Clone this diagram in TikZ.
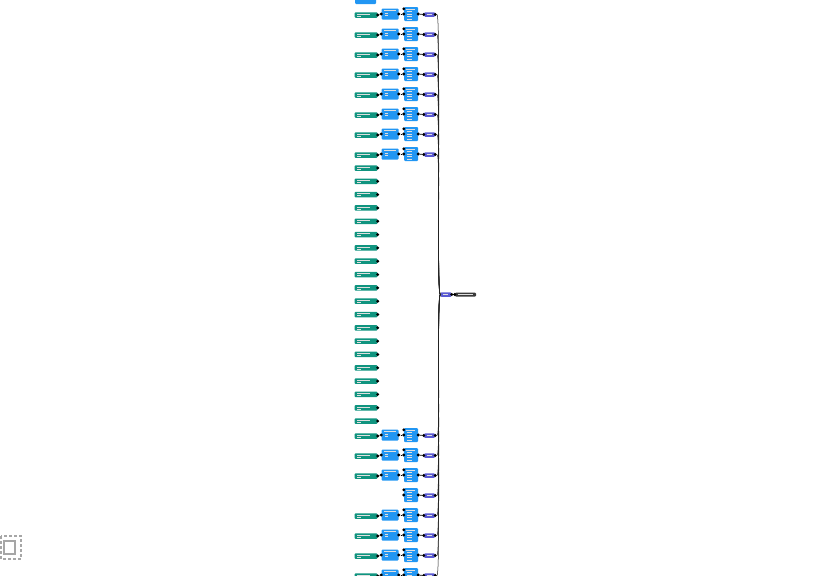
\documentclass[tikz,border=0pt]{standalone}
\usetikzlibrary{calc}
\definecolor{gnode}{HTML}{10947F}
\definecolor{bnode}{HTML}{2196F3}
\definecolor{pnode}{HTML}{5A5AD2}
\definecolor{dnode}{HTML}{3A3A3A}
\definecolor{wire}{HTML}{222222}
\tikzset{
  nbox/.style={inner sep=0pt, rounded corners=1pt, draw=none},
  greenbox/.style={nbox, fill=gnode, minimum width=23pt, minimum height=5.5pt},
  blueone/.style={nbox, fill=bnode, minimum width=17pt, minimum height=11pt},
  bluetwo/.style={nbox, fill=bnode, minimum width=14pt, minimum height=14pt},
  purplebox/.style={nbox, fill=pnode, minimum width=11pt, minimum height=4.5pt},
  darkbox/.style={nbox, fill=dnode, minimum width=21pt, minimum height=4pt},
  port/.style={circle, fill=black, inner sep=0pt, minimum size=3.2pt},
  faux/.style={white!75!gray, line width=0.3pt},
  link/.style={black, line width=0.7pt},
  bus/.style={wire, line width=0.5pt},
}
\begin{document}
\begin{tikzpicture}[x=1pt,y=-1pt]
\useasboundingbox (0,0) rectangle (836,576);
% partial node at top
\fill[bnode, rounded corners=1pt] (355,-5) rectangle (376,4);
% central nodes
\node[purplebox] (c) at (446,294.5) {};
\draw[faux] (443,294.5) -- (448,294.5);
\node[port] (cout) at (c.east) {};
\node[darkbox] (d) at (465.5,294.5) {};
\draw[faux] (458,294.5) -- (473,294.5);
\node[port] (din) at (d.west) {};
\draw[link] (cout) -- (din);
% full rows
\foreach \r/\y in {1/14,2/34,3/54,4/74,5/94,6/114,7/134,8/154,9/435,10/455,11/475,13/515,14/535,15/555,16/575}{
  \node[greenbox] (g\r) at (366,\y+1) {};
  \draw[faux] (357,\y) -- (370,\y);
  \draw[faux] (357,\y+2) -- (361,\y+2);
  \node[port] (go\r) at (g\r.east) {};
  \node[blueone] (a\r) at (390,\y) {};
  \draw[faux] (384,\y-3.5) -- (396,\y-3.5);
  \draw[faux] (385,\y-1) -- (388,\y-1);
  \draw[faux] (385,\y+1.5) -- (388,\y+1.5);
  \node[port] (ai\r) at (a\r.west) {};
  \node[port] (ao\r) at (a\r.east) {};
  \draw[link] (go\r) -- (ai\r);
}
% second blue and purple
\foreach \r/\y in {1/14,2/34,3/54,4/74,5/94,6/114,7/134,8/154,9/435,10/455,11/475,12/495,13/515,14/535,15/555,16/575}{
  \node[bluetwo] (b\r) at (411,\y) {};
  \draw[faux] (406,\y-5) -- (415,\y-5);
  \foreach \k in {-2.5,0,2.5,5}{ \draw[faux] (407,\y+\k) -- (412,\y+\k); }
  \node[port] (bi\r) at (b\r.west) {};
  \node[port] (bt\r) at ($(b\r.north west)+(0,2)$) {};
  \node[port] (bo\r) at (b\r.east) {};
  \node[purplebox] (p\r) at (429.5,\y+0.5) {};
  \draw[faux] (427,\y+0.5) -- (432,\y+0.5);
  \node[port] (pi\r) at (p\r.west) {};
  \node[port] (po\r) at (p\r.east) {};
  \draw[link] (bo\r) -- (pi\r);
  \draw[bus] (po\r.east) .. controls +(4,0) and +(-4,0) .. (c.west);
}
\foreach \r in {1,...,8,9,10,11,13,14,15,16}{
  \draw[link] (ao\r) -- (bi\r);
}
% green-only rows
\foreach \i in {0,...,19}{
  \pgfmathsetmacro{\yy}{168+\i*13.32}
  \node[greenbox] (h\i) at (366,\yy) {};
  \draw[faux] (357,\yy-1) -- (370,\yy-1);
  \draw[faux] (357,\yy+1) -- (361,\yy+1);
  \node[port] (ho\i) at (h\i.east) {};
}
% fit-view icon
\draw[gray!70, line width=2pt, dash pattern=on 3pt off 2pt] (1,536) rectangle (21,559);
\draw[gray!70, line width=2pt] (4,541) rectangle (15,554);
\end{tikzpicture}
\end{document}
